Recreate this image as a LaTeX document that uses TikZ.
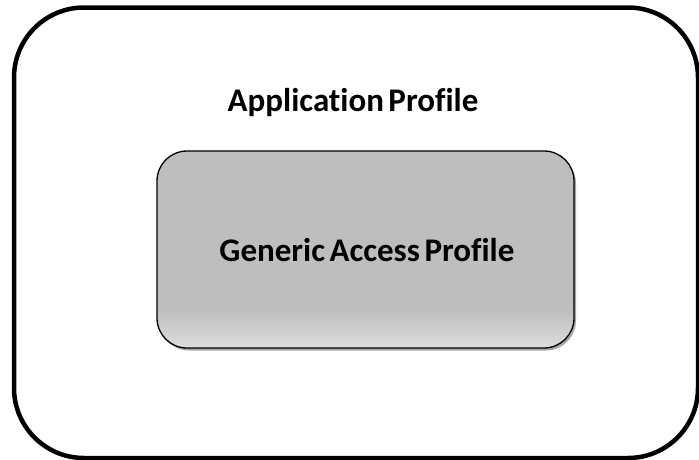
\documentclass[tikz,border=0pt]{standalone}
\usepackage{fontspec}
\setmainfont[Ligatures=NoCommon, WordSpace=0.6]{Carlito}
\usetikzlibrary{shadows}
\definecolor{gaptop}{HTML}{BEBEBE}
\definecolor{gapbot}{HTML}{DEDEDE}
% the box spans 25bp (bottom) to 75bp (top) of the shading
\pgfdeclareverticalshading{gapshade}{100bp}{color(0bp)=(gapbot); color(25bp)=(gapbot); color(29bp)=(gapbot!55!gaptop); color(35bp)=(gaptop); color(100bp)=(gaptop)}
\tikzset{
  outerbox/.style={draw=black, line width=4.5pt, rounded corners=70pt},
  innerbox/.style={draw=black, line width=1.3pt, rounded corners=30pt, shading=gapshade,
    drop shadow={shadow xshift=2pt, shadow yshift=-2.5pt, opacity=0.35, fill=black}},
  label/.style={font=\bfseries\fontsize{33}{37}\selectfont, text=black, inner sep=0pt}
}
\begin{document}
\begin{tikzpicture}[x=1pt, y=-1pt]
  \useasboundingbox (0,0) rectangle (699,459);
  \draw[outerbox] (14,7.5) rectangle (698,458);
  \path[innerbox] (157,151) rectangle (574,348);
  \node[label] (app) at (353,103) {Application Profile};
  \node[label] (gap) at (367,250) {Generic Access Profile};
\end{tikzpicture}
\end{document}
